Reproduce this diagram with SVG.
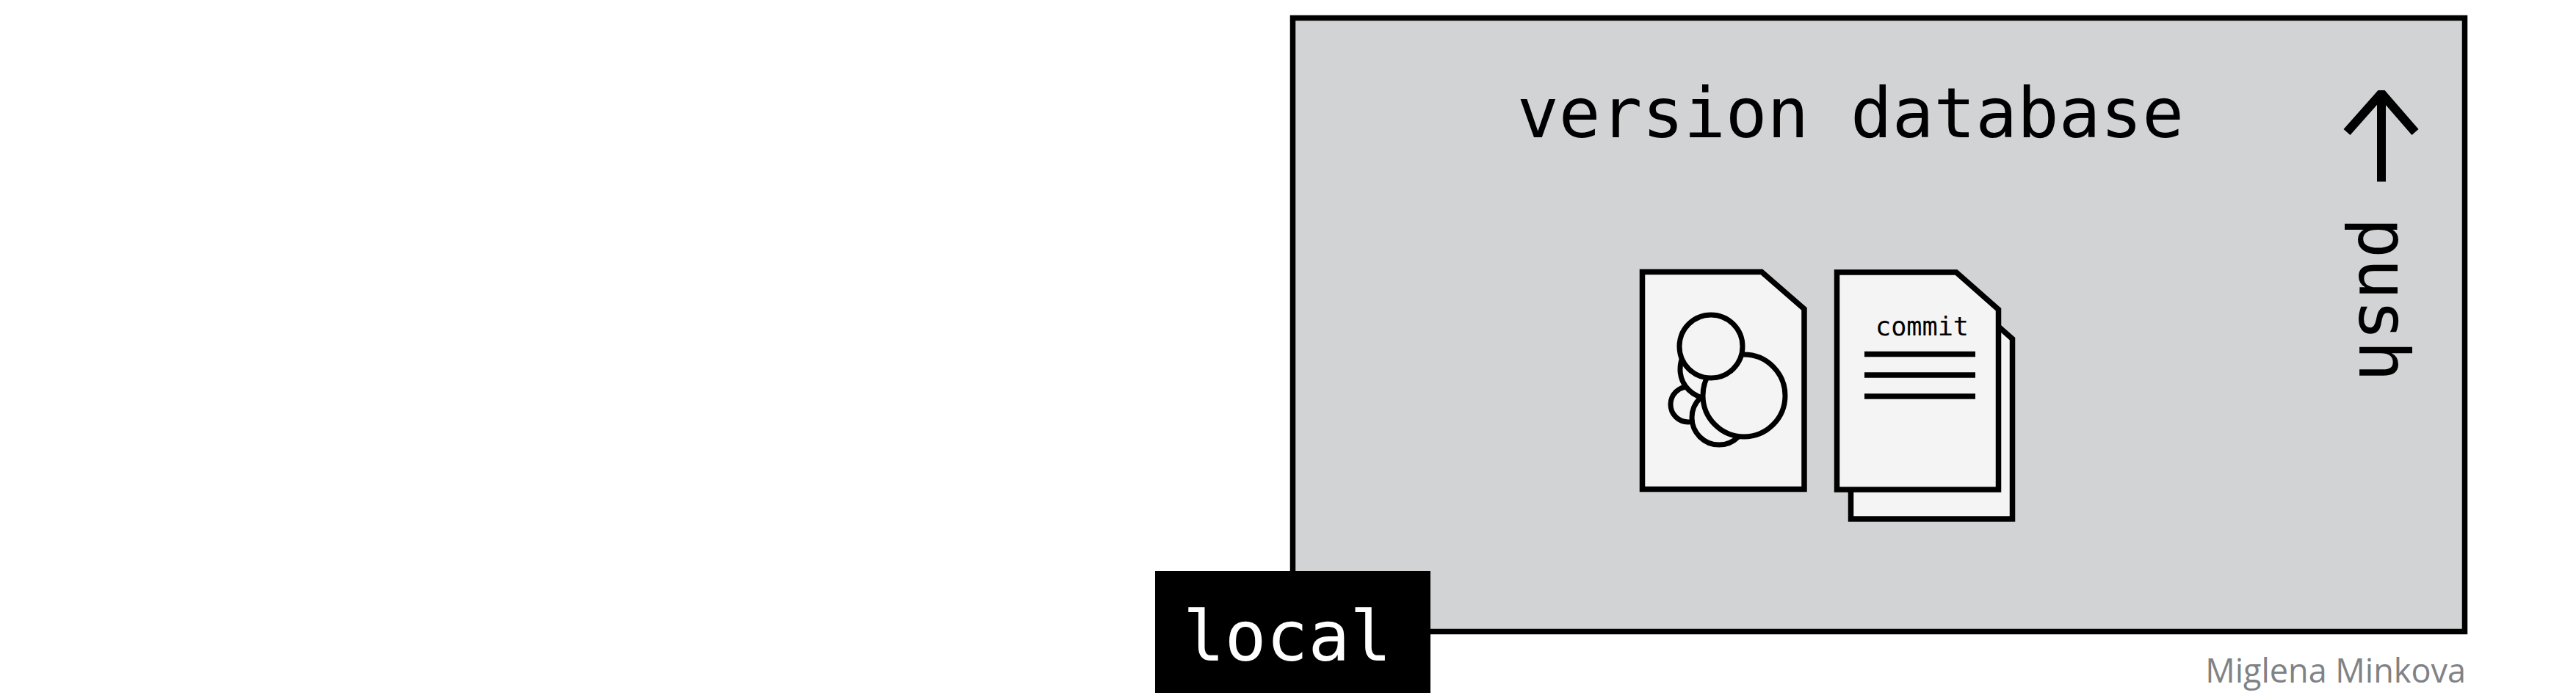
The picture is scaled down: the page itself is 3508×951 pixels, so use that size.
<svg xmlns="http://www.w3.org/2000/svg" width="3508" height="951" viewBox="0 0 3508 951">
<style>
.mono{font-family:"DejaVu Sans Mono","Liberation Mono",monospace}
.doc{fill:#f4f4f4;stroke:#000;stroke-width:7.500;stroke-miterlimit:10}
.blob{fill:#f4f4f4;stroke:#000;stroke-width:7}
.rule{stroke:#000;stroke-width:7.500;fill:none}
</style>
<rect width="3508" height="951" fill="#fff"/>
<g id="version-database">
<rect x="1760.5" y="24.5" width="1596" height="836" fill="#d1d3d4" stroke="#000" stroke-width="7.500"/>
<text class="mono" x="2066" y="187" font-size="94" textLength="908" lengthAdjust="spacingAndGlyphs" fill="#000">version database</text>
</g>
<g id="file-blobs">
<path class="doc" d="M2236.5 370.500H2399L2457 421V666.500H2236.500Z"/>
<circle class="blob" cx="2299" cy="551" r="24"/>
<circle class="blob" cx="2328" cy="503" r="40"/>
<circle class="blob" cx="2341" cy="569" r="37"/>
<circle class="blob" cx="2375" cy="539" r="56"/>
<circle class="blob" cx="2330" cy="472" r="43"/>
</g>
<g id="commits">
<path class="doc" d="M2520.5 411H2683L2740.500 461.700V707H2520.500Z"/>
<path class="doc" d="M2501.5 371H2664L2721.500 421.700V667H2501.500Z"/>
<text class="mono" x="2554" y="457" font-size="35" textLength="127" lengthAdjust="spacingAndGlyphs" fill="#000">commit</text>
<path class="rule" d="M2539 482.500H2690M2539 511H2690M2539 540H2690"/>
</g>
<g id="push">
<text class="mono" transform="translate(3213 296) rotate(90)" font-size="94" textLength="224" lengthAdjust="spacingAndGlyphs" fill="#000">push</text>
</g>
<g id="connectors">
<path d="M3243 247.500V128" fill="none" stroke="#000" stroke-width="12"/>
<path d="M3196 180L3243 127L3289 180" fill="none" stroke="#000" stroke-width="12" stroke-linejoin="bevel"/>
</g>
<g id="local">
<rect x="1573" y="778" width="375" height="166" fill="#000"/>
<text class="mono" x="1611" y="900" font-size="94" textLength="284" lengthAdjust="spacingAndGlyphs" fill="#fff">local</text>
</g>
<text id="credit" x="3358" y="930" font-family="Open Sans, Noto Sans, sans-serif" font-size="45" text-anchor="end" fill="#808285">Miglena Minkova</text>
</svg>
